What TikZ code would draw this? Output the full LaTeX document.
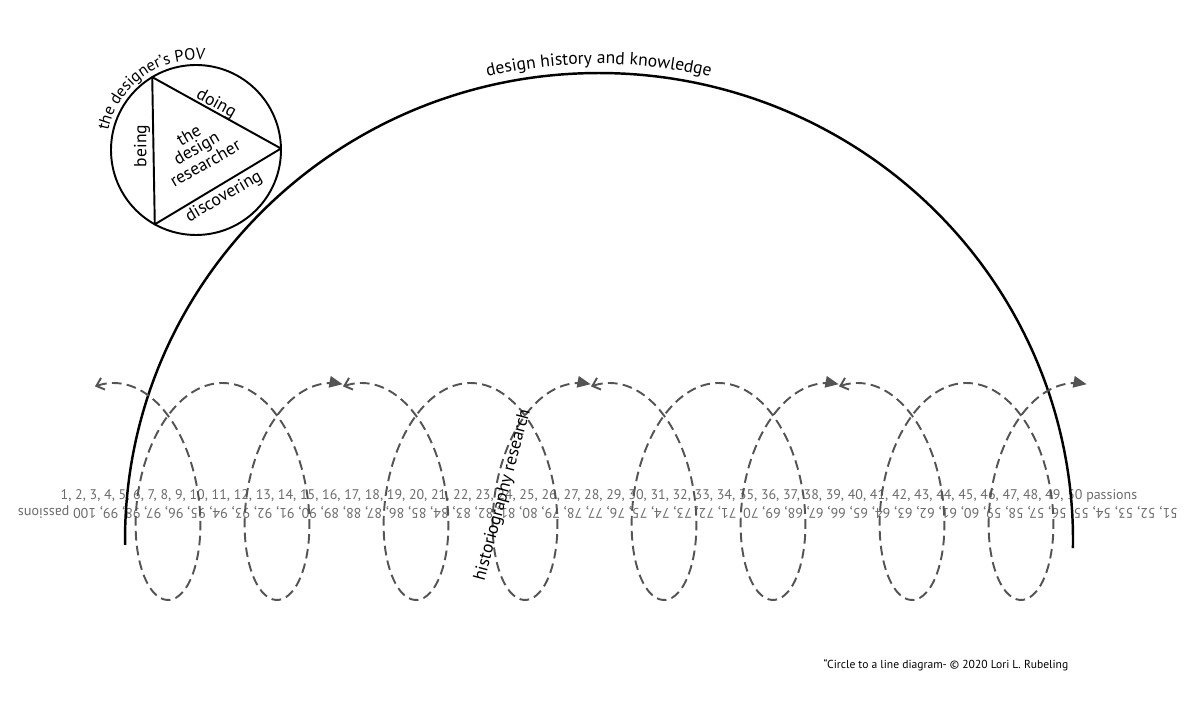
\documentclass[tikz,border=0pt]{standalone}
\usepackage{fontspec}
\setmainfont{PT Sans}
\usetikzlibrary{arrows.meta, decorations.text}

\newcommand{\lblfont}{\fontsize{10}{11}\selectfont}
\newcommand{\povfont}{\fontsize{9.3}{11}\selectfont}

\tikzset{
  coil/.style={black!67, line width=1.1pt, dash pattern=on 5.5pt off 3pt,
    arrows={{Straight Barb[length=4pt,width=7pt]}-{Triangle[length=7.5pt,width=6.5pt]}}},
  numrow/.style={text=black!58, inner sep=0pt},
  lbl/.style={font=\lblfont, inner sep=0pt},
}

\begin{document}
\begin{tikzpicture}[x=0.02cm, y=0.02cm]
  \useasboundingbox (0,0) rectangle (1200,720);
  % === Rady cisel ===
  \node[numrow, font=\fontsize{7.95}{10}\selectfont] (row1) at (599,224.5)
    {\foreach \n in {1,...,49}{\n,\ }50 passions};
  \node[numrow, font=\fontsize{8}{10}\selectfont, rotate=180] (row2) at (598,208)
    {\foreach \n in {51,...,99}{\n,\ }100 passions};
  % === Velky oblouk ===
  \draw[line width=1.4pt] (599,180) ++(180.6:474 and 467)
    arc[start angle=180.6, end angle=-1, x radius=474, y radius=467];
  \path[decorate, decoration={text along path, text align=center,
      text={|\lblfont|design history and knowledge}}]
    (599,180) ++(170:483 and 476)
    arc[start angle=170, end angle=10, x radius=483, y radius=476];
  % === Kruh POV ===
  \coordinate (pov) at (196,570);
  \draw[line width=1.1pt] (pov) circle[radius=85];
  \path (pov) ++(121:85) coordinate (tA)
        (pov) ++(241:85) coordinate (tB)
        (pov) ++(1:85) coordinate (tC);
  \draw[line width=1.1pt, line join=round] (tA) -- (tB) -- (tC) -- cycle;
  \path[decorate, decoration={text along path, text align=center,
      text={|\povfont|the designer’s POV}}]
    (pov) ++(174:90) arc[start angle=174, end angle=78, radius=90];
  \node[lbl, rotate=-29] (doing) at (216,616) {doing};
  \node[lbl, rotate=90] (being) at (142,574) {being};
  \node[lbl, rotate=30] (discovering) at (224,523) {discovering};
  \node[lbl, rotate=30, align=center, font=\fontsize{10}{8.5}\selectfont]
    (researcher) at (197,571) {the\\design\\researcher};
  % === Spirala ===
  \foreach \k in {0,...,3}
    \draw[coil, domain=2.89:15.86, samples=160, smooth]
      plot ({59+248*\k+17.35*\x-57*sin(\x r)}, {228.5-108.5*cos(\x r)});
  \node[lbl, rotate=75] (histo) at (503,225) {historiography research};
  % === Podpis ===
  \node[font=\fontsize{6.6}{8}\selectfont, inner sep=0pt] (credit) at (946,55)
    {“Circle to a line diagram- © 2020 Lori L. Rubeling};
\end{tikzpicture}
\end{document}
